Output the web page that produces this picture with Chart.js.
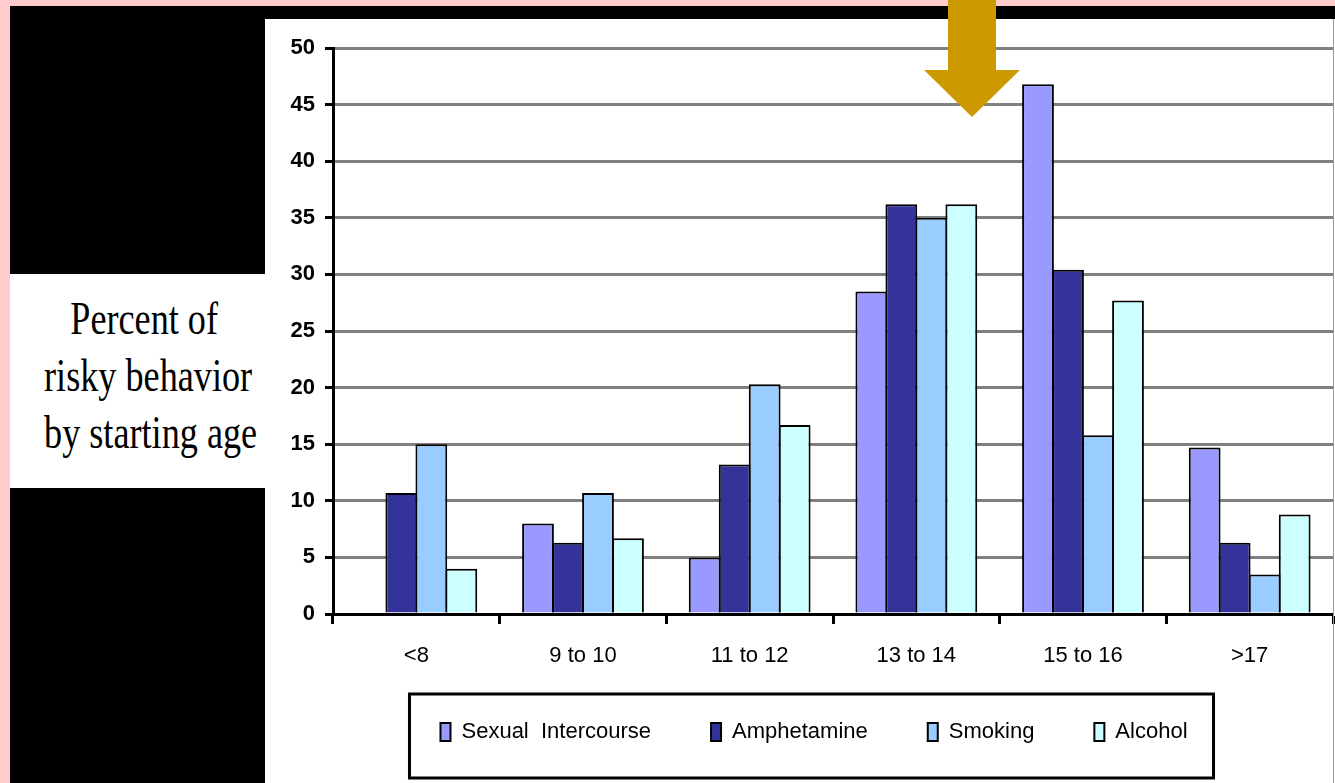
<!DOCTYPE html>
<html>
<head>
<meta charset="utf-8">
<script src="https://cdn.jsdelivr.net/npm/chart.js@4.4.1/dist/chart.umd.min.js"></script>
<style>
  html, body { margin: 0; padding: 0; }
  body { width: 1335px; height: 783px; background: #ffcccc; position: relative; overflow: hidden; }
  #black { position: absolute; left: 10px; top: 6px; width: 1325px; height: 777px; background: #000; }
  #panel { position: absolute; left: 265px; top: 19px; width: 1070px; height: 764px; background: #fff; }
  #labelBox { position: absolute; left: 10px; top: 274px; width: 260px; height: 214px; background: #fff; }
  #yLabel {
    position: absolute; left: 0; top: 16px; width: 260px;
    font-family: "Liberation Serif", "Times New Roman", serif; font-size: 47px; line-height: 57px;
    text-align: center; color: #000; transform: scaleX(0.77); transform-origin: 148px 0;
    white-space: nowrap;
  }
  #chartWrap { position: absolute; left: 265px; top: 19px; }
  #arrow { position: absolute; left: 0; top: 0; }
</style>
</head>
<body>
<div id="black"></div>
<div id="panel"></div>
<div id="labelBox"><div id="yLabel">Percent of<br>risky behavior<br>by starting age</div></div>
<div id="chartWrap"><canvas id="riskChart" width="1070" height="764"></canvas></div>
<svg id="arrow" width="1335" height="130">
  <polygon points="948,0 996,0 996,70 1020,70 972,117 924,70 948,70" fill="#cc9900"/>
</svg>
<script>
// starting-age groups
const ageGroups = ['<8', '9 to 10', '11 to 12', '13 to 14', '15 to 16', '>17'];

// percent of each risky behaviour by starting age
const sexualIntercourse = [0, 8.0, 5.0, 28.5, 46.8, 14.7];
const amphetamine = [10.7, 6.3, 13.2, 36.2, 30.4, 6.3];
const smoking = [15.0, 10.7, 20.3, 35.0, 15.8, 3.5];
const alcohol = [4.0, 6.7, 16.7, 36.2, 27.7, 8.8];

const yTicks = [0, 5, 10, 15, 20, 25, 30, 35, 40, 45, 50];

const tickFont = { family: '"Liberation Sans", Arial, sans-serif', size: 22 };

// nudges the legend into place and draws its black frame, plus the thin grey right edge
const legendFrame = {
    id: 'legendFrame',
    afterLayout(chart) {
        const lg = chart.legend;
        lg.left += 15;
        lg.right += 15;
        lg.top -= 28;
        lg.bottom -= 28;
    },
    afterDraw(chart) {
        const ctx = chart.ctx;
        const boxes = chart.legend.legendHitBoxes;
        if (boxes && boxes.length) {
            const first = boxes[0], last = boxes[boxes.length - 1];
            const cy = first.top + first.height / 2;
            ctx.save();
            ctx.strokeStyle = '#000';
            ctx.lineWidth = 3;
            ctx.strokeRect(first.left - 31, cy - 38, (last.left + last.width + 26) - (first.left - 31), 84);
            ctx.restore();
        }
        const a = chart.chartArea;
        ctx.save();
        ctx.strokeStyle = '#9a9a9a';
        ctx.lineWidth = 1;
        ctx.beginPath();
        ctx.moveTo(a.right + 0.5, 0);
        ctx.lineTo(a.right + 0.5, chart.height);
        ctx.stroke();
        ctx.restore();
    }
};

const ctx = document.getElementById('riskChart').getContext('2d');
const chart = new Chart(ctx, {
    type: 'bar',
    data: {
        labels: ageGroups,
        datasets: [
            { label: 'Sexual  Intercourse', data: sexualIntercourse, backgroundColor: '#9999ff' },
            { label: 'Amphetamine', data: amphetamine, backgroundColor: '#333399' },
            { label: 'Smoking', data: smoking, backgroundColor: '#99ccff' },
            { label: 'Alcohol', data: alcohol, backgroundColor: '#ccffff' }
        ].map(d => Object.assign(d, {
            borderColor: '#000',
            borderWidth: 2,
            borderSkipped: 'start',
            barPercentage: 1.06,
            categoryPercentage: 0.72
        }))
    },
    options: {
        responsive: false,
        animation: false,
        devicePixelRatio: 1,
        layout: { padding: { left: 0, right: 2, top: 29, bottom: 2 } },
        plugins: {
            tooltip: { enabled: false },
            legend: {
                position: 'bottom',
                labels: {
                    boxWidth: 10,
                    boxHeight: 18,
                    padding: 60,
                    color: '#000',
                    font: tickFont
                }
            }
        },
        scales: {
            x: {
                grid: { drawOnChartArea: false, drawTicks: true, tickLength: 10, tickColor: '#000', tickWidth: 3 },
                border: { color: '#000', width: 3 },
                ticks: { color: '#000', font: tickFont, padding: 19, maxRotation: 0 },
                afterFit(scale) { scale.height = 75; }
            },
            y: {
                min: 0,
                max: 50,
                afterBuildTicks(scale) { scale.ticks = yTicks.map(v => ({ value: v })); },
                grid: { color: '#808080', lineWidth: 3, tickLength: 8, tickColor: '#000', tickWidth: 3 },
                border: { color: '#000', width: 3 },
                ticks: { color: '#000', font: Object.assign({}, tickFont, { weight: 'bold' }), padding: 10 },
                afterFit(scale) { scale.width = 68; }
            }
        }
    },
    plugins: [legendFrame]
});
</script>
</body>
</html>
